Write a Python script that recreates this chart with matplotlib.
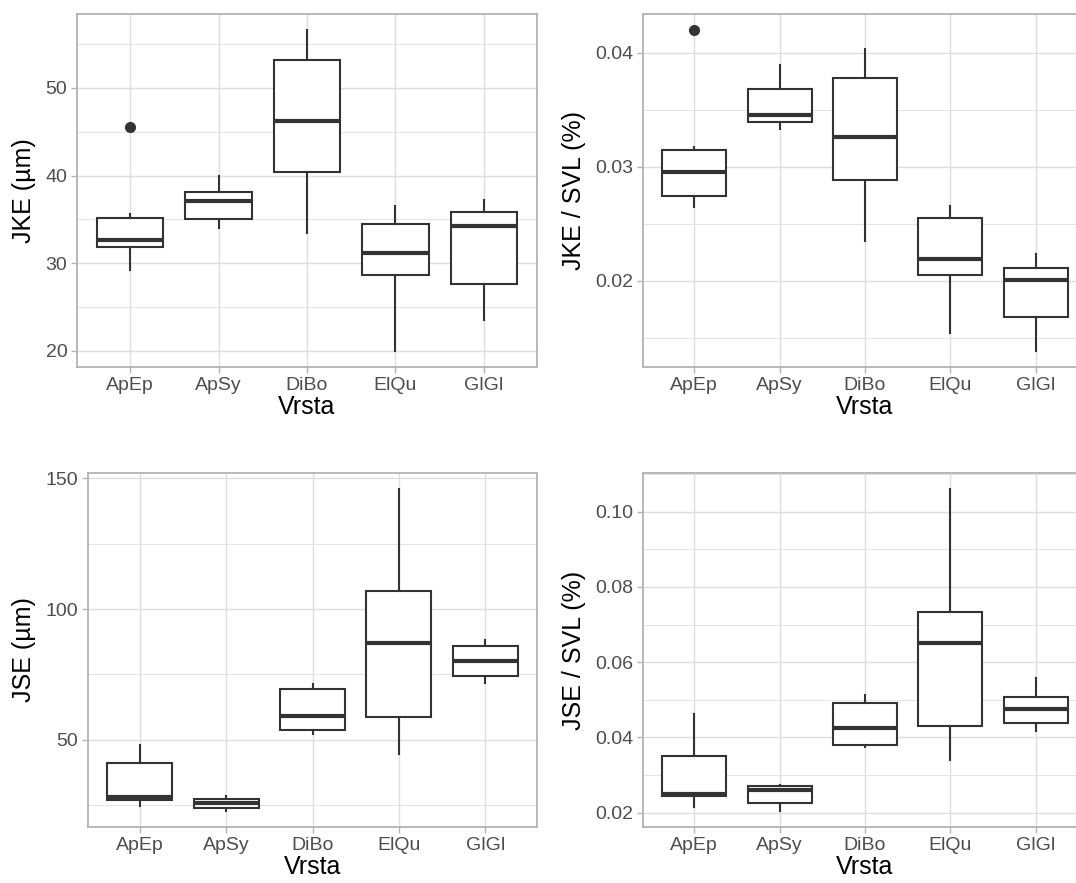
import matplotlib
matplotlib.use("Agg")
import matplotlib.pyplot as plt
from matplotlib.ticker import MultipleLocator

plt.rcParams['font.family'] = ['Liberation Sans', 'DejaVu Sans']

species = ["ApEp", "ApSy", "DiBo", "ElQu", "GlGl"]

# Panel 1: JKE (µm)
jke_low = [29.2, 34.0, 33.4, 20.0, 23.5]
jke_q1 = [31.8, 35.0, 40.4, 28.7, 27.6]
jke_med = [32.7, 37.1, 46.2, 31.2, 34.2]
jke_q3 = [35.2, 38.1, 53.2, 34.5, 35.9]
jke_high = [35.6, 40.0, 56.6, 36.5, 37.2]
jke_out = [[45.5], [], [], [], []]

# Panel 2: JKE / SVL (%)
jkes_low = [0.02647, 0.03327, 0.02351, 0.01546, 0.01385]
jkes_q1 = [0.02741, 0.03394, 0.02887, 0.02053, 0.01681]
jkes_med = [0.02955, 0.03458, 0.03265, 0.02187, 0.02006]
jkes_q3 = [0.03148, 0.03681, 0.03777, 0.02551, 0.02114]
jkes_high = [0.03174, 0.03892, 0.04035, 0.02659, 0.02237]
jkes_out = [[0.04199], [], [], [], []]

# Panel 3: JSE (µm)
jse_low = [24.6, 22.8, 52.4, 44.5, 71.9]
jse_q1 = [26.9, 24.0, 53.7, 58.7, 74.3]
jse_med = [28.2, 25.9, 59.2, 87.2, 80.2]
jse_q3 = [41.0, 27.2, 69.3, 106.8, 85.9]
jse_high = [48.1, 28.5, 71.5, 145.9, 88.2]
jse_out = [[], [], [], [], []]

# Panel 4: JSE / SVL (%)
jses_low = [0.0216, 0.02044, 0.03733, 0.03396, 0.04169]
jses_q1 = [0.02436, 0.02249, 0.03804, 0.04293, 0.04373]
jses_med = [0.02489, 0.02587, 0.04249, 0.06498, 0.04764]
jses_q3 = [0.03493, 0.02702, 0.04907, 0.07324, 0.05067]
jses_high = [0.04622, 0.02729, 0.0512, 0.10604, 0.05591]
jses_out = [[], [], [], [], []]

W, H = 1076, 883
fig = plt.figure(figsize=(W / 100, H / 100), dpi=100)

BOX = "#333333"
GRID = "#DEDEDE"
BORDER = "#B3B3B3"
TICKC = "#4D4D4D"


def make_axes(l, t, r, b):
    return fig.add_axes([l / W, 1 - b / H, (r - l) / W, (b - t) / H])


def draw(ax, low, q1, med, q3, high, out, ylabel, major, minor, fmt, label_x):
    stats = []
    for i in range(len(species)):
        stats.append(dict(whislo=low[i], q1=q1[i], med=med[i], q3=q3[i],
                          whishi=high[i], fliers=out[i], label=species[i]))
    ax.bxp(stats, positions=range(1, len(species) + 1), widths=0.75,
           showcaps=False, patch_artist=True,
           boxprops=dict(facecolor="white", edgecolor=BOX, linewidth=1.5),
           whiskerprops=dict(color=BOX, linewidth=1.5),
           medianprops=dict(color=BOX, linewidth=3.0, solid_capstyle="butt"),
           flierprops=dict(marker="o", markerfacecolor=BOX, markeredgecolor=BOX,
                           markersize=7, linestyle="none"),
           zorder=3)
    allv = low + high + [v for o in out for v in o]
    lo, hi = min(allv), max(allv)
    pad = 0.05 * (hi - lo)
    ax.set_ylim(lo - pad, hi + pad)
    ax.set_xlim(0.4, len(species) + 0.6)
    ax.yaxis.set_major_locator(MultipleLocator(major))
    ax.yaxis.set_minor_locator(MultipleLocator(minor))
    ax.yaxis.set_major_formatter(fmt)
    ax.set_xticks(range(1, len(species) + 1))
    ax.set_xticklabels(species)
    ax.grid(True, which="major", color=GRID, linewidth=1.0, zorder=0)
    ax.grid(True, which="minor", axis="y", color=GRID, linewidth=0.6, zorder=0)
    ax.set_axisbelow(True)
    for s in ax.spines.values():
        s.set_color(BORDER)
        s.set_linewidth(1.3)
    ax.tick_params(axis="both", which="major", colors=BORDER, labelcolor=TICKC,
                   labelsize=14, length=4, width=1.0, pad=3)
    ax.tick_params(axis="y", which="minor", length=0)
    ax.set_xlabel("Vrsta", fontsize=18, color="black", labelpad=1)
    ax.set_ylabel(ylabel, fontsize=18, color="black")
    bbox = ax.get_position()
    ax.yaxis.set_label_coords((label_x / W - bbox.x0) / bbox.width, 0.5)


ax1 = make_axes(77, 14, 537, 367)
draw(ax1, jke_low, jke_q1, jke_med, jke_q3, jke_high, jke_out,
     "JKE (µm)", 10, 5, "{x:.0f}", 36)

ax2 = make_axes(643, 14, 1087, 367)
draw(ax2, jkes_low, jkes_q1, jkes_med, jkes_q3, jkes_high, jkes_out,
     "JKE / SVL (%)", 0.01, 0.005, "{x:.2f}", 586)

ax3 = make_axes(88, 473, 537, 827)
draw(ax3, jse_low, jse_q1, jse_med, jse_q3, jse_high, jse_out,
     "JSE (µm)", 50, 25, "{x:.0f}", 36)

ax4 = make_axes(643, 473, 1087, 827)
draw(ax4, jses_low, jses_q1, jses_med, jses_q3, jses_high, jses_out,
     "JSE / SVL (%)", 0.02, 0.01, "{x:.2f}", 586)

fig.savefig("out.png", dpi=100, facecolor="white")
